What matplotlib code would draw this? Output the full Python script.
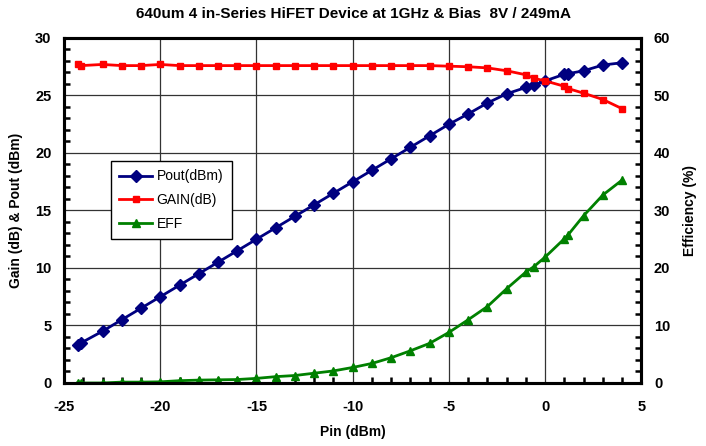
import matplotlib
matplotlib.use("Agg")
import matplotlib.pyplot as plt
from matplotlib.ticker import MultipleLocator

plt.rcParams['font.family'] = ['Liberation Sans', 'DejaVu Sans']
plt.rcParams['axes.unicode_minus'] = False

# Input power sweep (dBm)
pin = [-24.3, -24.1, -23, -22, -21, -20, -19, -18, -17, -16, -15, -14, -13,
       -12, -11, -10, -9, -8, -7, -6, -5, -4, -3, -2, -1, -0.6, 0, 1, 1.2,
       2, 3, 4]
pout = [3.3, 3.5, 4.5, 5.5, 6.5, 7.5, 8.5, 9.5, 10.5, 11.5, 12.5, 13.5, 14.5,
        15.5, 16.5, 17.5, 18.5, 19.5, 20.5, 21.5, 22.5, 23.4, 24.35, 25.15,
        25.7, 25.87, 26.27, 26.85, 26.9, 27.15, 27.65, 27.85]
gain = [27.7, 27.6, 27.7, 27.6, 27.6, 27.7, 27.6, 27.6, 27.6, 27.6, 27.6,
        27.6, 27.6, 27.6, 27.6, 27.6, 27.6, 27.6, 27.6, 27.6, 27.55, 27.5,
        27.4, 27.15, 26.8, 26.5, 26.27, 25.8, 25.6, 25.2, 24.65, 23.85]
eff = [0.0, 0.0, 0.0, 0.15, 0.15, 0.2, 0.4, 0.5, 0.55, 0.6, 0.8, 1.1, 1.3,
       1.7, 2.1, 2.7, 3.4, 4.4, 5.6, 6.9, 8.8, 11.0, 13.3, 16.4, 19.3, 20.2,
       21.9, 25.1, 25.8, 29.1, 32.7, 35.3]

fig = plt.figure(figsize=(7.06, 4.46), dpi=100)
ax = fig.add_axes([0.0907, 0.1413, 0.8178, 0.7735])
ax2 = ax.twinx()

l1, = ax.plot(pin, pout, color='#000080', marker='D', markersize=6, lw=2,
              label='Pout(dBm)')
l2, = ax.plot(pin, gain, color='#ff0000', marker='s', markersize=5, lw=2,
              label='GAIN(dB)')
l3, = ax2.plot(pin, eff, color='#008000', marker='^', markersize=6, lw=2,
               label='EFF')

ax.set_xlim(-25, 5)
ax.set_ylim(0, 30)
ax2.set_ylim(0, 60)
ax.xaxis.set_major_locator(MultipleLocator(5))
ax.xaxis.set_minor_locator(MultipleLocator(1))
ax.yaxis.set_major_locator(MultipleLocator(5))
ax.yaxis.set_minor_locator(MultipleLocator(1))
ax2.yaxis.set_major_locator(MultipleLocator(10))
ax2.yaxis.set_minor_locator(MultipleLocator(2))

ax.grid(True, which='major', color='#333333', lw=0.9)
ax.set_axisbelow(True)

for a in (ax, ax2):
    for s in a.spines.values():
        s.set_linewidth(2.2)
    a.tick_params(which='both', direction='in', width=1.8, labelsize=10.5)
    a.tick_params(which='major', length=0, pad=9)
    a.tick_params(which='minor', length=4)
    for lab in a.get_xticklabels() + a.get_yticklabels():
        lab.set_fontweight('bold')
ax.tick_params(axis='x', which='major', pad=12)

ax.set_xlabel('Pin (dBm)', fontsize=10, fontweight='bold', labelpad=8)
ax.set_ylabel('Gain (dB) & Pout (dBm)', fontsize=10, fontweight='bold', labelpad=9)
ax2.set_ylabel('Efficiency (%)', fontsize=10, fontweight='bold', labelpad=9)
fig.suptitle('640um 4 in-Series HiFET Device at 1GHz & Bias  8V / 249mA',
             fontsize=11, fontweight='bold', x=0.5, y=0.985)

leg = ax2.legend(handles=[l1, l2, l3], loc='upper left',
                 bbox_to_anchor=(0.081, 0.643), borderaxespad=0,
                 fontsize=10, fancybox=False,
                 framealpha=1, edgecolor='black', borderpad=0.6,
                 handlelength=2.4, handletextpad=0.3, labelspacing=0.7)
leg.get_frame().set_linewidth(1)

fig.savefig('out.png', dpi=100)
